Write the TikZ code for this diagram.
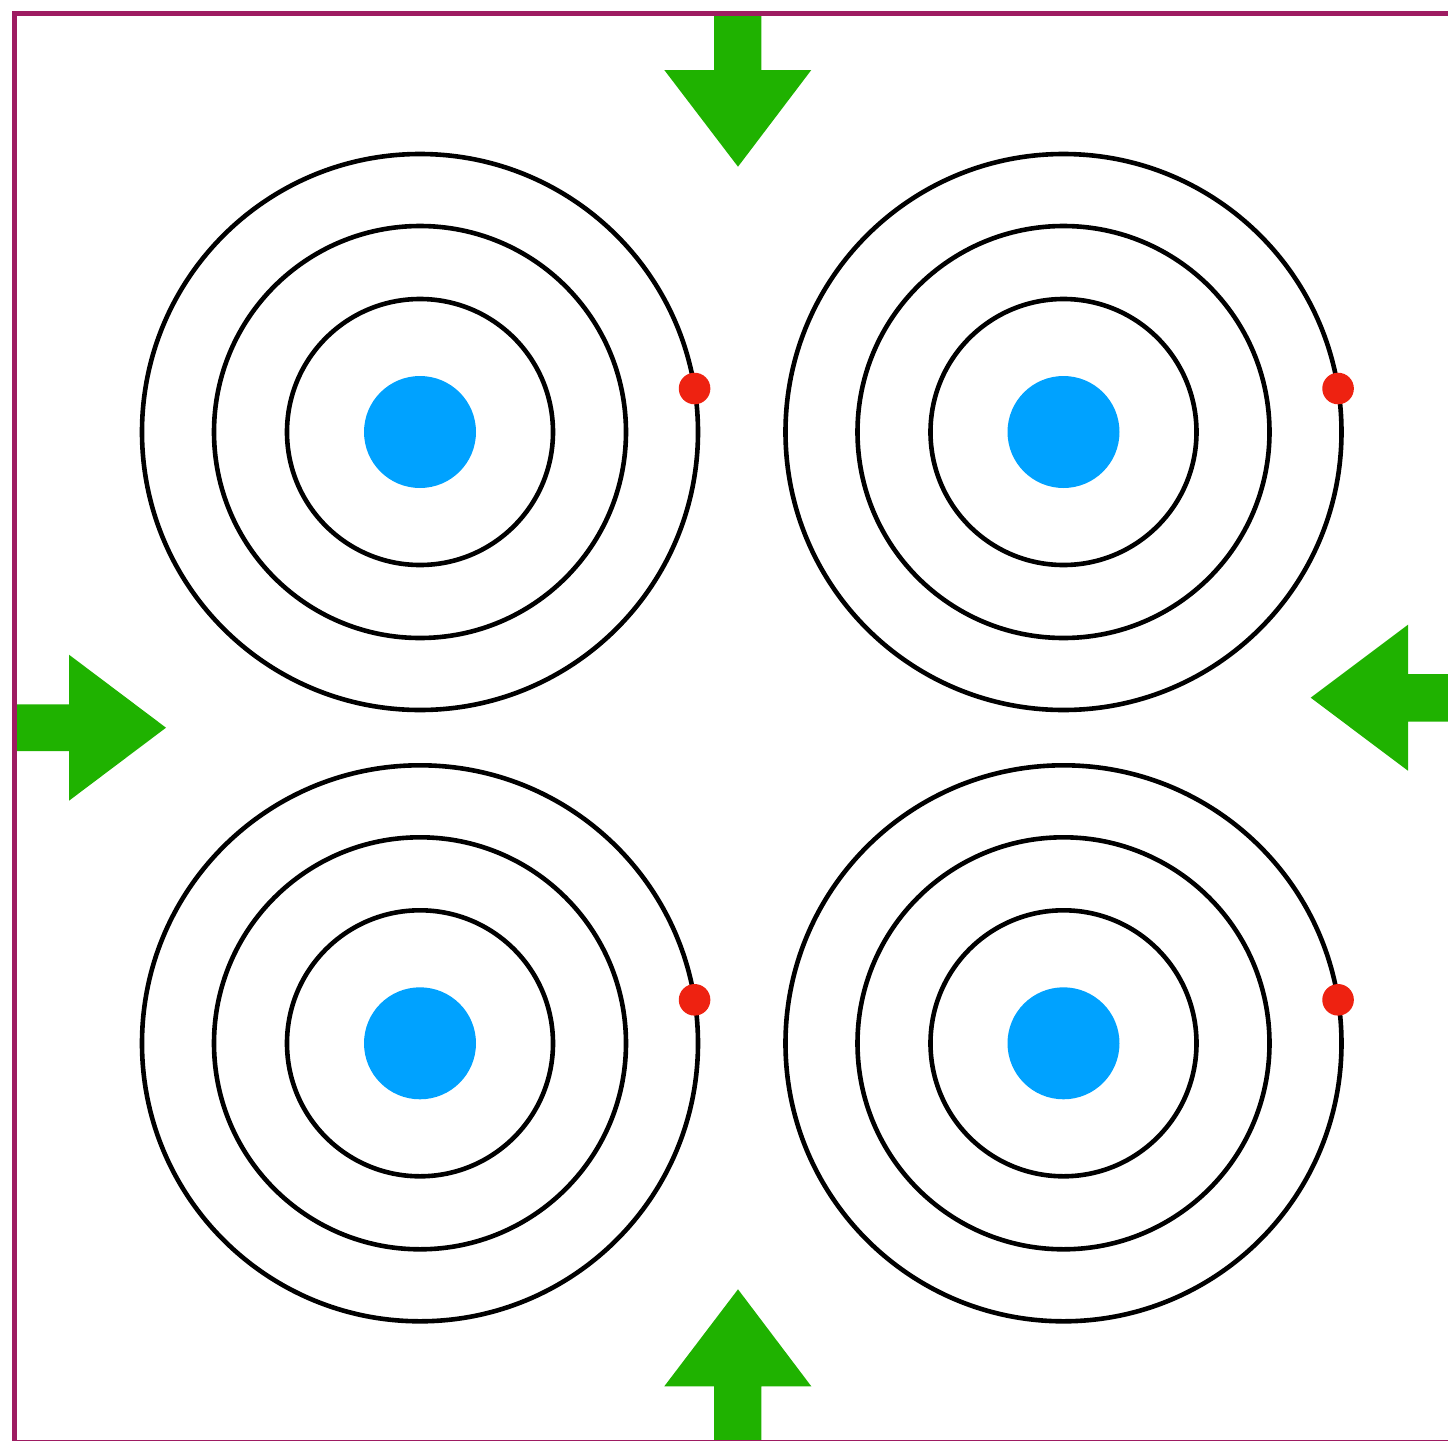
\documentclass[tikz,border=0pt]{standalone}
\definecolor{framec}{RGB}{158,28,98}
\definecolor{arrgreen}{RGB}{31,178,0}
\definecolor{nucblue}{RGB}{0,162,255}
\definecolor{elred}{RGB}{238,34,17}
\begin{document}
\begin{tikzpicture}[x=0.5pt,y=-0.5pt,
  ring/.style={circle,draw=black,line width=2.3pt,inner sep=0pt,outer sep=0pt,minimum size=#1},
  nucleus/.style={circle,fill=nucblue,inner sep=0pt,outer sep=0pt,minimum size=56pt},
  electron/.style={circle,fill=elred,inner sep=0pt,outer sep=0pt,minimum size=15.8pt},
  greenarrow/.style={fill=arrgreen,draw=none},
  frameline/.style={draw=framec,line width=2.5pt}]
\useasboundingbox (0,0) rectangle (1448,1441);
\clip (0,0) rectangle (1448,1441);
\foreach \cx/\cy/\n in {420/432/a, 1063.5/432/b, 420/1043.3/c, 1063.5/1043.3/d}{
  \node[ring=278pt] (\n3) at (\cx,\cy) {};
  \node[ring=206pt] (\n2) at (\cx,\cy) {};
  \node[ring=133pt] (\n1) at (\cx,\cy) {};
  \node[nucleus] (\n0) at (\cx,\cy) {};
  \node[electron] (\n e) at (\n3.9.35) {};
}
% arrows
\fill[greenarrow] (714,13) -- (714,70) -- (664.3,70) -- (738,166.7) -- (811.3,70) -- (761.3,70) -- (761.3,13) -- cycle;
\fill[greenarrow] (14,704.3) -- (69,704.3) -- (69,654.7) -- (166,727.7) -- (69,800.7) -- (69,751) -- (14,751) -- cycle;
\fill[greenarrow] (1460,674) -- (1408,674) -- (1408,624.7) -- (1310.7,697.7) -- (1408,770.7) -- (1408,721.7) -- (1460,721.7) -- cycle;
\fill[greenarrow] (714,1450) -- (714,1386.3) -- (664.3,1386.3) -- (738,1289.3) -- (811.3,1386.3) -- (761.3,1386.3) -- (761.3,1450) -- cycle;
% frame
\draw[frameline] (14,13) rectangle (1470,1442.5);
\end{tikzpicture}
\end{document}
